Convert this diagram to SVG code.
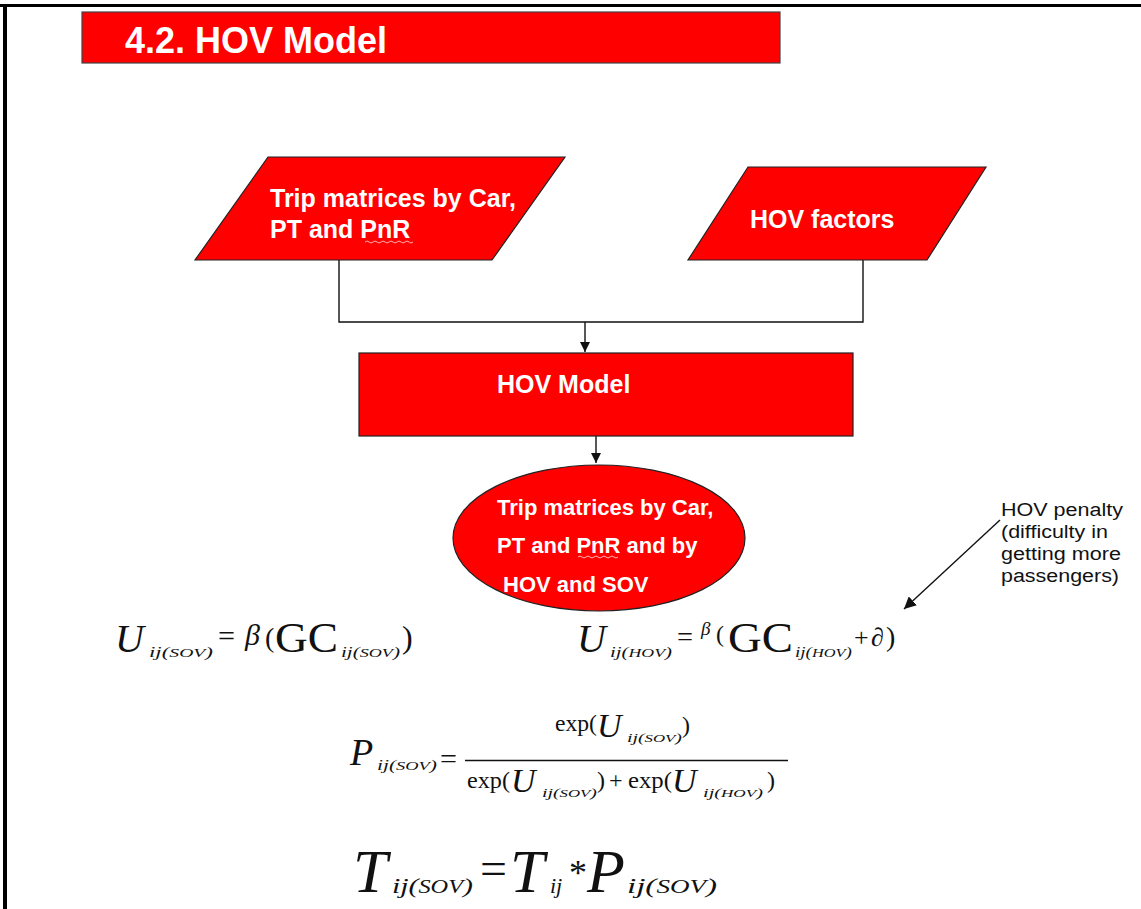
<svg xmlns="http://www.w3.org/2000/svg" width="1141" height="909" viewBox="0 0 1141 909">
<style>
.shape{fill:#ff0000;stroke:#222;stroke-width:1.2}
.lbl{font-family:"Liberation Sans",Arial,sans-serif;font-weight:bold;fill:#fff}
.note{font-family:"Liberation Sans",Arial,sans-serif;font-size:18px;fill:#111}
.conn{fill:none;stroke:#111;stroke-width:1.4}
.m{font-family:"Liberation Serif","Times New Roman",serif;fill:#111}
.it{font-style:italic}
.sq{fill:none;stroke:#ffb3b3;stroke-width:1}
</style>
<defs>
<marker id="ah" viewBox="0 0 10 10" refX="10" refY="5" markerWidth="10" markerHeight="10" markerUnits="userSpaceOnUse" orient="auto">
<path d="M0,0 L10,5 L0,10 Z" fill="#111"/>
</marker>
<marker id="ah2" viewBox="0 0 10 10" refX="10" refY="5" markerWidth="12" markerHeight="12" markerUnits="userSpaceOnUse" orient="auto">
<path d="M0,0 L10,5 L0,10 Z" fill="#111"/>
</marker>
</defs>
<rect width="1141" height="909" fill="#fff"/>
<rect x="0" y="4" width="1141" height="3" fill="#000"/>
<rect x="3" y="4" width="4" height="905" fill="#000"/>

<g id="title">
<rect x="82" y="12" width="698" height="51" fill="#ff0000" stroke="#444" stroke-width="1.2"/>
<text class="lbl" x="125" y="53" font-size="36">4.2. HOV Model</text>
</g>

<g id="connectors">
<path class="conn" d="M339,260 V322 H863 V260"/>
<path class="conn" d="M585,322 V352" marker-end="url(#ah)"/>
<path class="conn" d="M596,436 V463" marker-end="url(#ah)"/>
<path class="conn" d="M1000,520 L904,609" marker-end="url(#ah2)"/>
</g>

<g id="input-trips">
<polygon class="shape" points="268,157 565,157 492,260 195,260"/>
<text class="lbl" font-size="25" x="270" y="207">Trip matrices by Car,</text>
<text class="lbl" font-size="25" x="270" y="238">PT and PnR</text>
<path class="sq" d="M365,242 q2,-2 4,0 t4,0 t4,0 t4,0 t4,0 t4,0 t4,0 t4,0 t4,0 t4,0 t4,0 t4,0"/>
</g>

<g id="input-hov-factors">
<polygon class="shape" points="748,167 986,167 927,260 688,260"/>
<text class="lbl" font-size="25" x="750" y="228">HOV factors</text>
</g>

<g id="hov-model">
<rect class="shape" x="359" y="353" width="494" height="83"/>
<text class="lbl" font-size="25" x="497" y="393">HOV Model</text>
</g>

<g id="output-trips">
<ellipse class="shape" cx="599" cy="538" rx="146" ry="73"/>
<text class="lbl" font-size="22" x="497" y="515">Trip matrices by Car,</text>
<text class="lbl" font-size="22" x="497" y="553">PT and PnR and by</text>
<text class="lbl" font-size="22" x="503" y="592">HOV and SOV</text>
<path class="sq" d="M578,557 q2,-2 4,0 t4,0 t4,0 t4,0 t4,0 t4,0 t4,0 t4,0 t4,0 t4,0"/>
</g>

<g id="penalty-note">
<text class="note" x="1001" y="516" textLength="122" lengthAdjust="spacingAndGlyphs">HOV penalty</text>
<text class="note" x="1001" y="538" textLength="107" lengthAdjust="spacingAndGlyphs">(difficulty in</text>
<text class="note" x="1001" y="560" textLength="120" lengthAdjust="spacingAndGlyphs">getting more</text>
<text class="note" x="1001" y="582" textLength="118" lengthAdjust="spacingAndGlyphs">passengers)</text>
</g>

<g id="eq-usov" class="m">
<text class="it" x="115" y="652" font-size="40">U</text>
<text class="it" x="149" y="657" font-size="14" textLength="64" lengthAdjust="spacingAndGlyphs">ij(<tspan font-size="12">SOV</tspan>)</text>
<text x="218" y="646" font-size="30" textLength="17" lengthAdjust="spacingAndGlyphs">=</text>
<text class="it" x="245" y="645" font-size="30">β</text>
<text x="265" y="647" font-size="28">(</text>
<text x="275" y="652" font-size="42" textLength="63" lengthAdjust="spacingAndGlyphs">GC</text>
<text class="it" x="341" y="657" font-size="14" textLength="59" lengthAdjust="spacingAndGlyphs">ij(<tspan font-size="12">SOV</tspan>)</text>
<text x="402" y="648" font-size="32">)</text>
</g>

<g id="eq-uhov" class="m">
<text class="it" x="577" y="652" font-size="40">U</text>
<text class="it" x="610" y="657" font-size="14" textLength="62" lengthAdjust="spacingAndGlyphs">ij(<tspan font-size="12">HOV</tspan>)</text>
<text x="677" y="646" font-size="28" textLength="16" lengthAdjust="spacingAndGlyphs">=</text>
<text class="it" x="701" y="635" font-size="19">β</text>
<text x="716" y="642" font-size="24">(</text>
<text x="728" y="652" font-size="42" textLength="65" lengthAdjust="spacingAndGlyphs">GC</text>
<text class="it" x="795" y="657" font-size="14" textLength="57" lengthAdjust="spacingAndGlyphs">ij(<tspan font-size="12">HOV</tspan>)</text>
<text x="854" y="646" font-size="26">+</text>
<text class="it" x="871" y="646" font-size="26">∂</text>
<text x="886" y="646" font-size="28">)</text>
</g>

<g id="eq-psov" class="m">
<text class="it" x="350" y="765" font-size="38">P</text>
<text class="it" x="377" y="770" font-size="14" textLength="60" lengthAdjust="spacingAndGlyphs">ij(<tspan font-size="12">SOV</tspan>)</text>
<text x="440" y="768" font-size="28" textLength="17" lengthAdjust="spacingAndGlyphs">=</text>
<line x1="465" y1="760.5" x2="788" y2="760.5" stroke="#111" stroke-width="1.5"/>
<text x="555" y="731" font-size="24" textLength="42" lengthAdjust="spacingAndGlyphs">exp(</text>
<text class="it" x="597" y="737" font-size="34">U</text>
<text class="it" x="627" y="742" font-size="13" textLength="55" lengthAdjust="spacingAndGlyphs">ij(<tspan font-size="11">SOV</tspan>)</text>
<text x="682" y="733" font-size="24">)</text>
<text x="467" y="788" font-size="24" textLength="43" lengthAdjust="spacingAndGlyphs">exp(</text>
<text class="it" x="511" y="792" font-size="34">U</text>
<text class="it" x="542" y="797" font-size="13" textLength="55" lengthAdjust="spacingAndGlyphs">ij(<tspan font-size="11">SOV</tspan>)</text>
<text x="597" y="788" font-size="24">)</text>
<text x="609" y="788" font-size="24">+</text>
<text x="628" y="788" font-size="24" textLength="44" lengthAdjust="spacingAndGlyphs">exp(</text>
<text class="it" x="672" y="792" font-size="34">U</text>
<text class="it" x="703" y="797" font-size="13" textLength="60" lengthAdjust="spacingAndGlyphs">ij(<tspan font-size="11">HOV</tspan>)</text>
<text x="767" y="788" font-size="24">)</text>
</g>

<g id="eq-tsov" class="m">
<text class="it" x="353" y="892" font-size="62">T</text>
<text class="it" x="392" y="893" font-size="22" textLength="81" lengthAdjust="spacingAndGlyphs">ij(<tspan font-size="18">SOV</tspan>)</text>
<text x="480" y="884" font-size="46" textLength="27" lengthAdjust="spacingAndGlyphs">=</text>
<text class="it" x="510" y="892" font-size="62">T</text>
<text class="it" x="550" y="893" font-size="22">ij</text>
<text x="569" y="885" font-size="36">*</text>
<text class="it" x="587" y="892" font-size="62">P</text>
<text class="it" x="627" y="893" font-size="22" textLength="90" lengthAdjust="spacingAndGlyphs">ij(<tspan font-size="18">SOV</tspan>)</text>
</g>
</svg>
